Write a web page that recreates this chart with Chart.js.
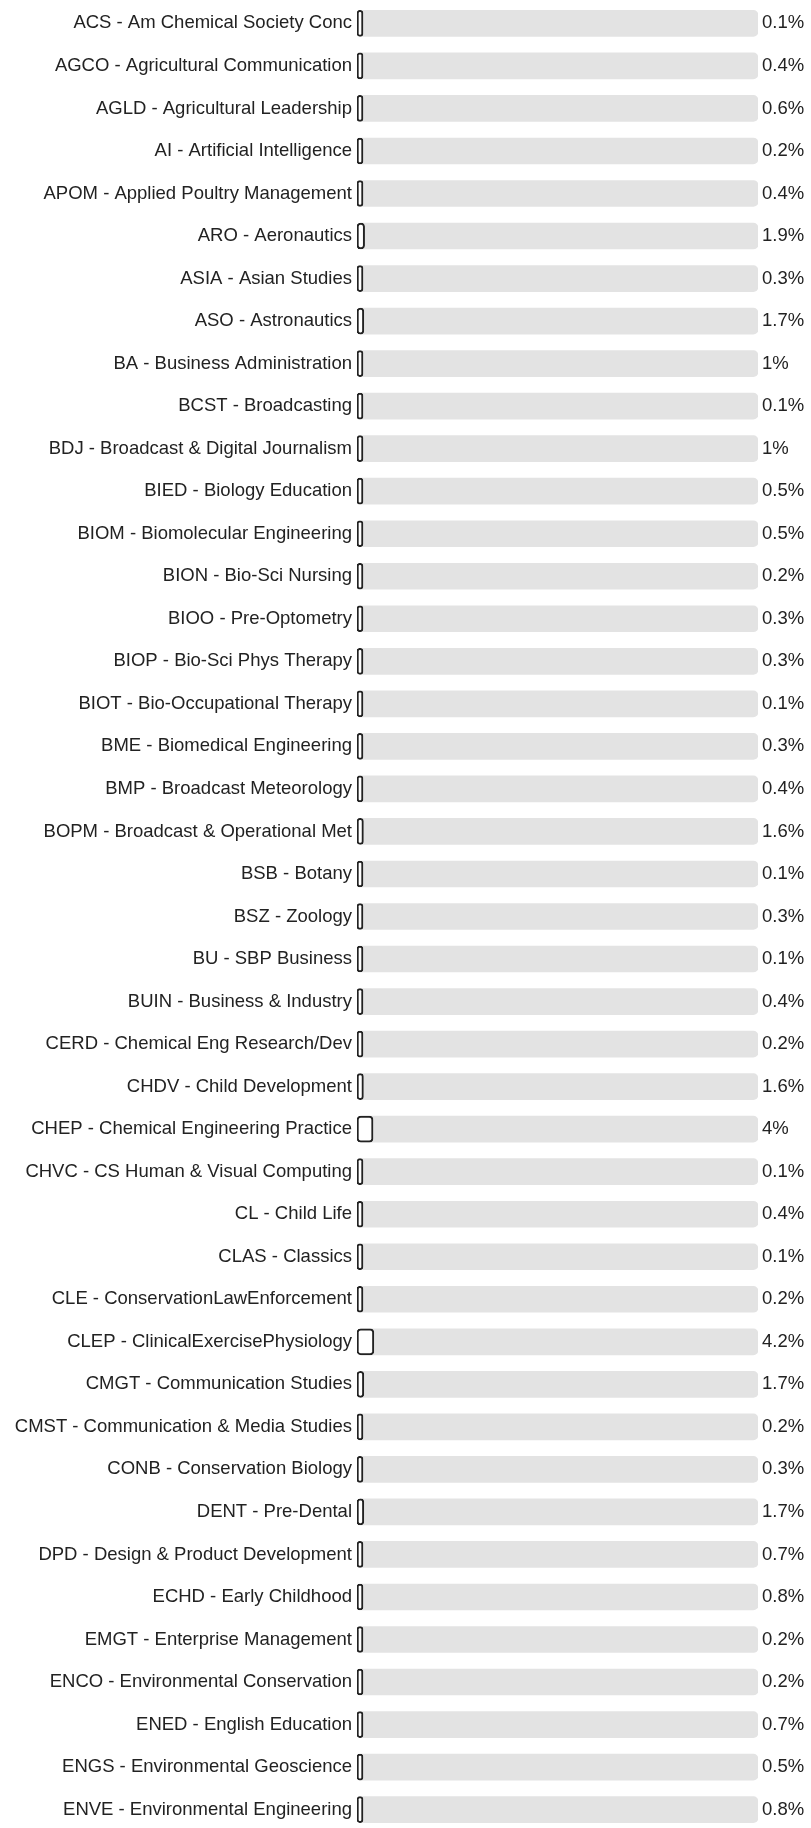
<!DOCTYPE html>
<html>
<head>
<meta charset="utf-8">
<script src="https://cdn.jsdelivr.net/npm/chart.js@4"></script>
<style>
  html, body { margin: 0; padding: 0; background: #fff; overflow: hidden; }
  #wrap { width: 811px; height: 1861px; margin-top: -14px; }
</style>
</head>
<body>
<div id="wrap"><canvas id="majors"></canvas></div>
<script>
// majors and their share of students (%)
var majors = [
    'ACS - Am Chemical Society Conc',
    'AGCO - Agricultural Communication',
    'AGLD - Agricultural Leadership',
    'AI - Artificial Intelligence',
    'APOM - Applied Poultry Management',
    'ARO - Aeronautics',
    'ASIA - Asian Studies',
    'ASO - Astronautics',
    'BA - Business Administration',
    'BCST - Broadcasting',
    'BDJ - Broadcast & Digital Journalism',
    'BIED - Biology Education',
    'BIOM - Biomolecular Engineering',
    'BION - Bio-Sci Nursing',
    'BIOO - Pre-Optometry',
    'BIOP - Bio-Sci Phys Therapy',
    'BIOT - Bio-Occupational Therapy',
    'BME - Biomedical Engineering',
    'BMP - Broadcast Meteorology',
    'BOPM - Broadcast & Operational Met',
    'BSB - Botany',
    'BSZ - Zoology',
    'BU - SBP Business',
    'BUIN - Business & Industry',
    'CERD - Chemical Eng Research/Dev',
    'CHDV - Child Development',
    'CHEP - Chemical Engineering Practice',
    'CHVC - CS Human & Visual Computing',
    'CL - Child Life',
    'CLAS - Classics',
    'CLE - ConservationLawEnforcement',
    'CLEP - ClinicalExercisePhysiology',
    'CMGT - Communication Studies',
    'CMST - Communication & Media Studies',
    'CONB - Conservation Biology',
    'DENT - Pre-Dental',
    'DPD - Design & Product Development',
    'ECHD - Early Childhood',
    'EMGT - Enterprise Management',
    'ENCO - Environmental Conservation',
    'ENED - English Education',
    'ENGS - Environmental Geoscience',
    'ENVE - Environmental Engineering'
];

var percents = [
    0.1, 0.4, 0.6, 0.2, 0.4, 1.9, 0.3, 1.7, 1, 0.1,
    1, 0.5, 0.5, 0.2, 0.3, 0.3, 0.1, 0.3, 0.4, 1.6,
    0.1, 0.3, 0.1, 0.4, 0.2, 1.6, 4, 0.1, 0.4, 0.1,
    0.2, 4.2, 1.7, 0.2, 0.3, 1.7, 0.7, 0.8, 0.2, 0.2,
    0.7, 0.5, 0.8
];

// full track behind each bar
var trackMax = 100;
var track = majors.map(function () { return trackMax; });

var fontFamily = '"Liberation Sans", Arial, sans-serif';

// percent text right of every track
var percentLabels = {
    id: 'percentLabels',
    afterDatasetsDraw: function (chart) {
        var c = chart.ctx;
        var meta = chart.getDatasetMeta(1);
        c.save();
        c.font = '18.5px ' + fontFamily;
        c.fillStyle = '#222';
        c.textAlign = 'left';
        c.textBaseline = 'middle';
        meta.data.forEach(function (bar, i) {
            c.fillText(percents[i] + '%', chart.chartArea.right + 4, bar.y);
        });
        c.restore();
    }
};

var ctx = document.getElementById('majors').getContext('2d');

new Chart(ctx, {
    type: 'bar',
    data: {
        labels: majors,
        datasets: [{
            label: 'track',
            data: track,
            backgroundColor: '#e3e3e3',
            borderRadius: 5,
            borderSkipped: false,
            barThickness: 26,
            grouped: false,
            order: 2
        }, {
            label: 'Students',
            data: percents,
            backgroundColor: '#ffffff',
            borderColor: '#222',
            borderWidth: 2,
            borderRadius: 4,
            borderSkipped: false,
            barThickness: 26,
            minBarLength: 6,
            grouped: false,
            order: 1
        }]
    },
    options: {
        indexAxis: 'y',
        responsive: true,
        maintainAspectRatio: false,
        animation: false,
        layout: {
            padding: { top: 0, right: 53, bottom: 0, left: 0 }
        },
        scales: {
            x: {
                display: false,
                min: 0,
                max: trackMax
            },
            y: {
                grid: { display: false, drawTicks: false },
                border: { display: false },
                ticks: {
                    autoSkip: false,
                    padding: 5,
                    color: '#222',
                    font: { family: fontFamily, size: 18.5 }
                },
                afterFit: function (scale) {
                    scale.width = 357;
                }
            }
        },
        plugins: {
            legend: { display: false },
            tooltip: { enabled: false }
        }
    },
    plugins: [percentLabels]
});
</script>
</body>
</html>
